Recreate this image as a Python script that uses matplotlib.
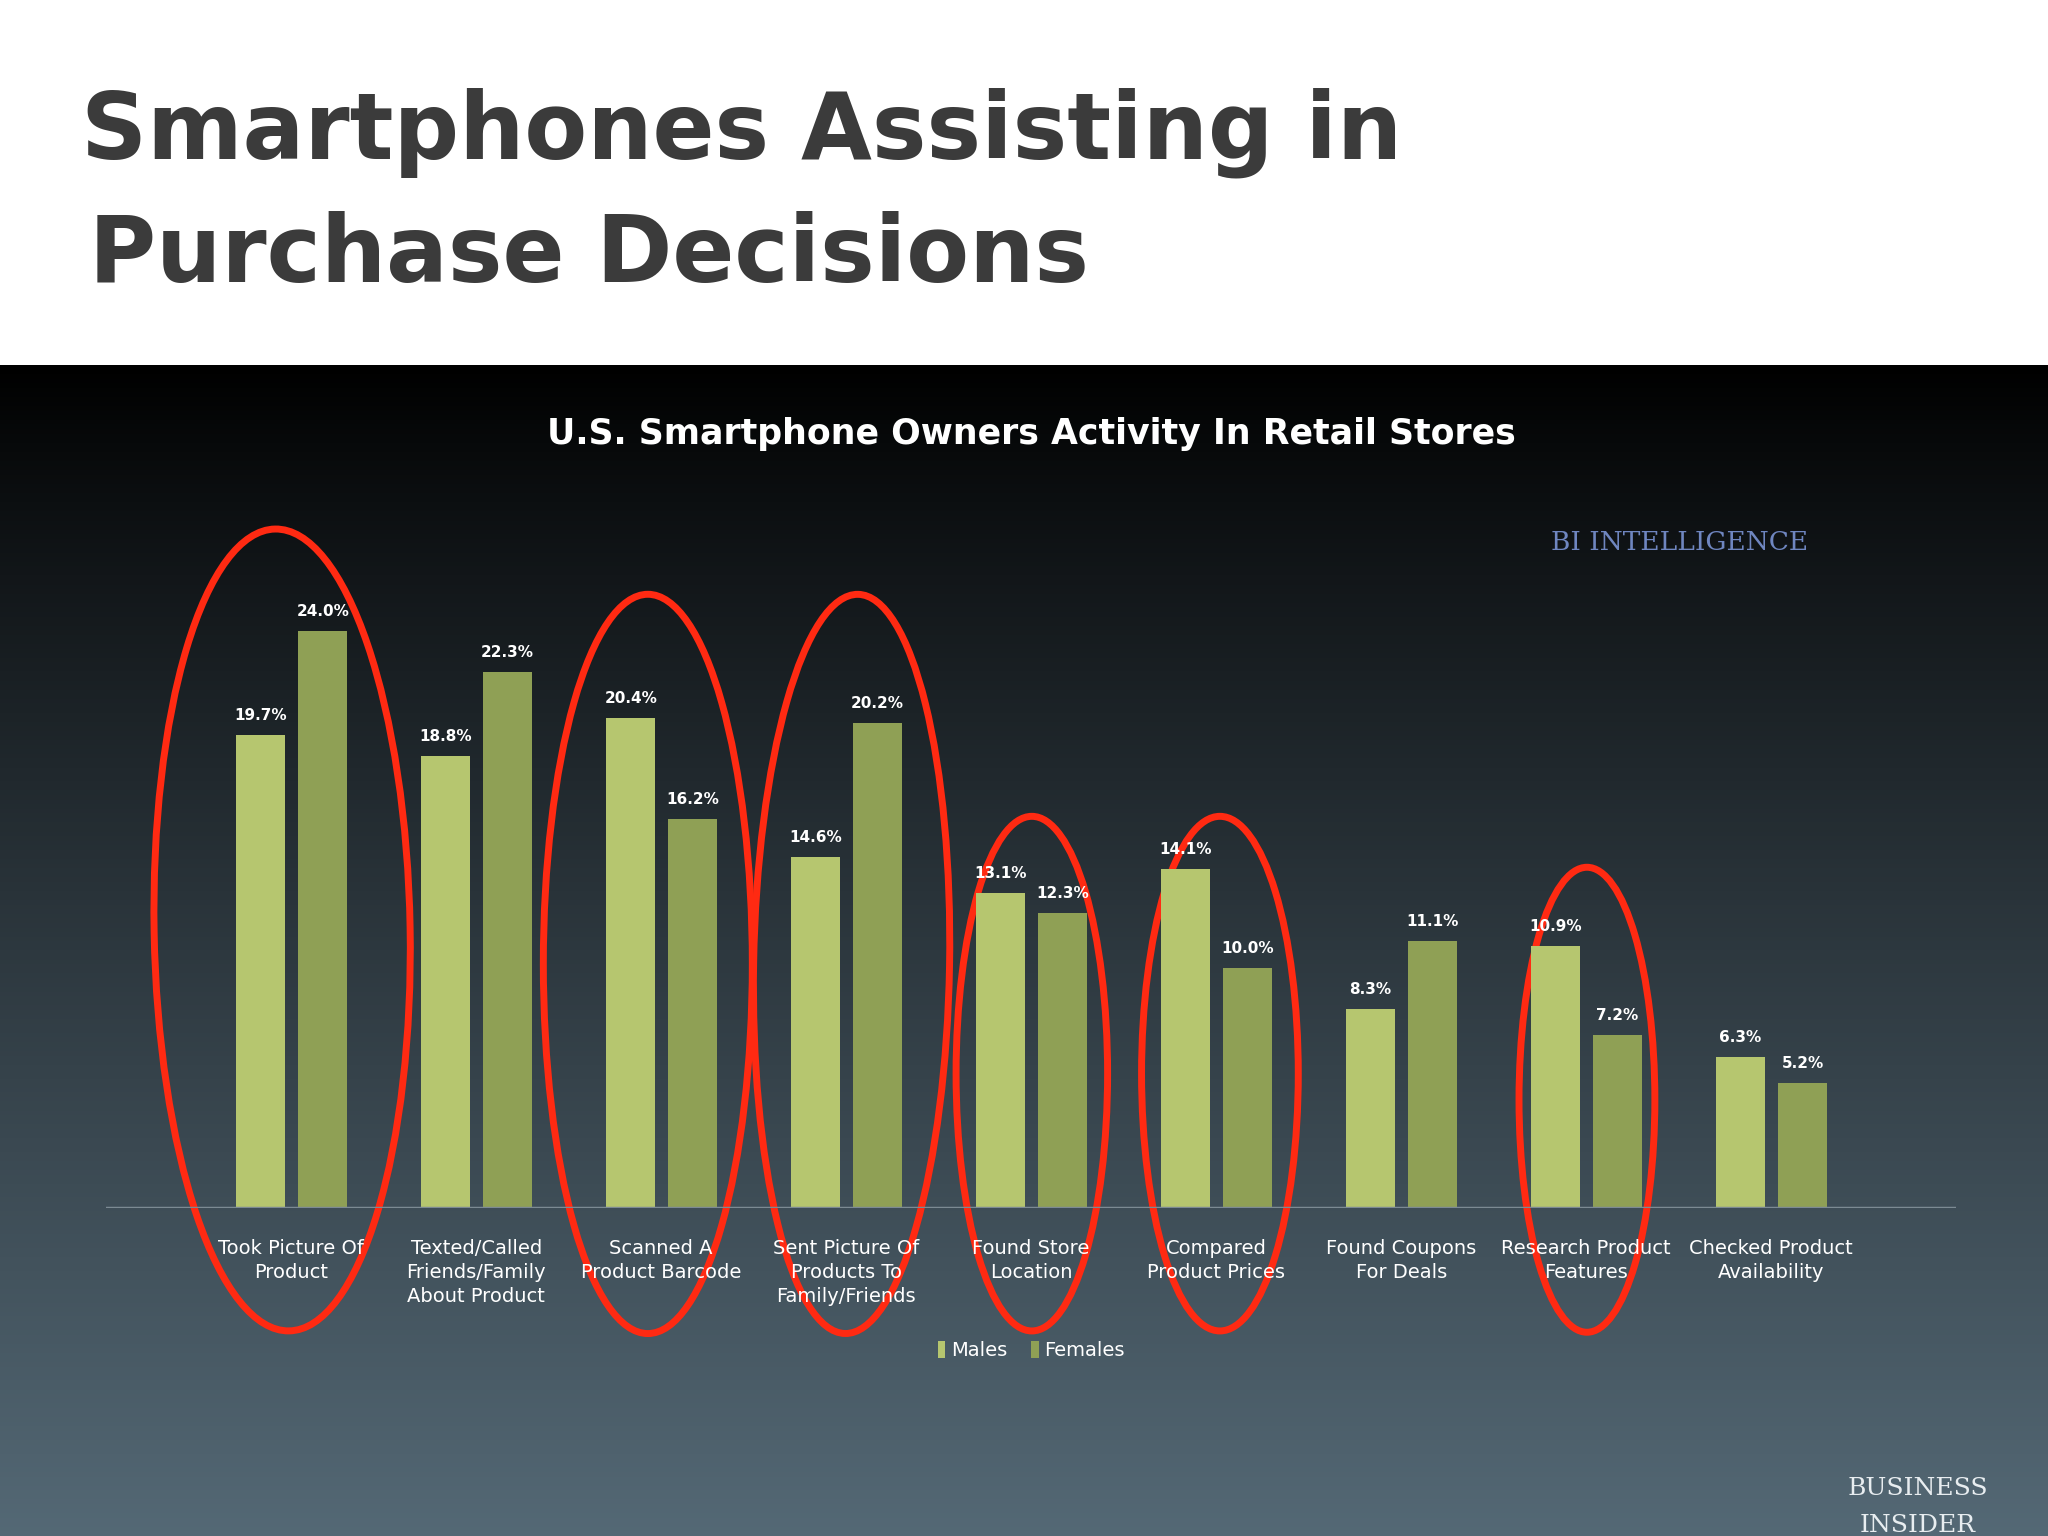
import numpy as np
import matplotlib
matplotlib.use('Agg')
from matplotlib import pyplot as plt
from matplotlib.patches import Ellipse

categories = ['Took Picture Of\nProduct', 'Texted/Called\nFriends/Family\nAbout Product',
              'Scanned A\nProduct Barcode', 'Sent Picture Of\nProducts To\nFamily/Friends',
              'Found Store\nLocation', 'Compared\nProduct Prices', 'Found Coupons\nFor Deals',
              'Research Product\nFeatures', 'Checked Product\nAvailability']
males = [19.7, 18.8, 20.4, 14.6, 13.1, 14.1, 8.3, 10.9, 6.3]
females = [24.0, 22.3, 16.2, 20.2, 12.3, 10.0, 11.1, 7.2, 5.2]

W, H = 1568, 1176  # layout in reference pixel space
fig = plt.figure(figsize=(20.48, 15.36), dpi=100)

# background: white header + dark gradient panel
bg = fig.add_axes([0, 0, 1, 1])
bg.set_xlim(0, W)
bg.set_ylim(H, 0)
bg.axis('off')
grad = np.linspace(0, 1, 256).reshape(-1, 1) ** 0.9
top = np.array([0.0, 0.0, 0.0])
bot = np.array([0.33, 0.41, 0.46])
img = top + grad[..., None] * (bot - top)
bg.imshow(img, extent=[0, W, H, 280], aspect='auto', zorder=0)
bg.text(62, 102, 'Smartphones Assisting in', fontsize=66, fontweight='bold',
        color='#3b3b3b', va='center', ha='left')
bg.text(68, 196, 'Purchase Decisions', fontsize=66, fontweight='bold',
        color='#3b3b3b', va='center', ha='left')
bg.text(790, 332, 'U.S. Smartphone Owners Activity In Retail Stores', fontsize=25,
        fontweight='bold', color='white', ha='center', va='center')
bg.text(1286, 415, 'BI INTELLIGENCE', fontsize=19, family='DejaVu Serif',
        color='#6f86c0', ha='center', va='center')
bg.text(1468, 1140, 'BUSINESS', fontsize=18, family='DejaVu Serif', color='#e8edf0',
        ha='center', va='center')
bg.text(1468, 1168, 'INSIDER', fontsize=18, family='DejaVu Serif', color='#e8edf0',
        ha='center', va='center')

ax = fig.add_axes([81.4 / W, 1 - 925 / H, 1416.2 / W, 552 / H])
ax.set_xlim(-1, 9)
ax.set_ylim(0, 30)
ax.patch.set_alpha(0)
for s in ax.spines.values():
    s.set_visible(False)
ax.axhline(0, color='#7c8a93', lw=2.5)
ax.set_yticks([])
x = np.arange(len(categories))
w = 0.265
bm = ax.bar(x - 0.165, males, w, color='#b6c66f', label='Males')
bf = ax.bar(x + 0.17, females, w, color='#8fa055', label='Females')
for rects, vals in [(bm, males), (bf, females)]:
    for r, v in zip(rects, vals):
        ax.text(r.get_x() + r.get_width() / 2, v + 0.5, f'{v:.1f}%', ha='center',
                va='bottom', fontsize=11, fontweight='bold', color='white')
ax.set_xticks(x)
ax.set_xticklabels(categories, fontsize=14, color='white', linespacing=1.35)
ax.tick_params(axis='x', length=0, pad=22)
ax.legend(loc='upper center', bbox_to_anchor=(0.5, -0.16), ncol=2, frameon=False,
          fontsize=14, labelcolor='white', handlelength=0.4, handleheight=1.0,
          handletextpad=0.3, columnspacing=1.2)

# red hand-drawn ellipses
ellipses = [(216, 712, 196, 614, -1), (496, 738, 160, 566, 0), (652, 738, 150, 566, 1),
            (790, 822, 116, 394, 0), (934, 822, 120, 394, 0), (1215, 842, 104, 356, 0)]
for cx, cy, ew, eh, ang in ellipses:
    bg.add_patch(Ellipse((cx, cy), ew, eh, angle=ang, fill=False, ec='#ff2a12',
                         lw=5, zorder=5))

fig.savefig('out.png', dpi=100)
